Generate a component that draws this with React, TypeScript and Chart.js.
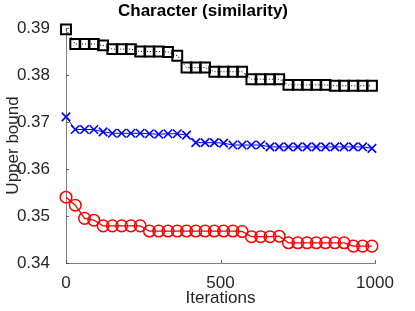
import React, { useEffect, useRef } from "react";
import { Chart, registerables } from "chart.js";

Chart.register(...registerables);

const iterations = [0, 30, 60, 90, 120, 150, 180, 210, 240, 270, 300, 330, 360, 390, 420, 450, 480, 510, 540, 570, 600, 630, 660, 690, 720, 750, 780, 810, 840, 870, 900, 930, 960, 990];

const squareSeries = [0.3897, 0.3866, 0.3866, 0.3866, 0.3863, 0.3855, 0.3855, 0.3855, 0.385, 0.385, 0.385, 0.3849, 0.3841, 0.3816, 0.3816, 0.3816, 0.3807, 0.3807, 0.3807, 0.3807, 0.3791, 0.3791, 0.3791, 0.3791, 0.3779, 0.3779, 0.3779, 0.3779, 0.3779, 0.3777, 0.3777, 0.3777, 0.3777, 0.3777];

const crossSeries = [0.3711, 0.3684, 0.3684, 0.3684, 0.3679, 0.3676, 0.3676, 0.3676, 0.3676, 0.3675, 0.3674, 0.3675, 0.3675, 0.3672, 0.3656, 0.3656, 0.3656, 0.3655, 0.3651, 0.3651, 0.3651, 0.3651, 0.3647, 0.3647, 0.3647, 0.3647, 0.3647, 0.3647, 0.3647, 0.3647, 0.3647, 0.3647, 0.3647, 0.3644];

const circleSeries = [0.354, 0.3523, 0.3495, 0.3491, 0.3479, 0.3479, 0.3479, 0.3479, 0.3479, 0.3468, 0.3468, 0.3468, 0.3468, 0.3468, 0.3468, 0.3468, 0.3468, 0.3468, 0.3468, 0.3467, 0.3456, 0.3456, 0.3456, 0.3457, 0.3443, 0.3443, 0.3443, 0.3443, 0.3443, 0.3443, 0.3443, 0.3436, 0.3436, 0.3436];

const yTicks = [0.34, 0.35, 0.36, 0.37, 0.38, 0.39];
const xTicks = [0, 500, 1000];

const titleText = "Character (similarity)";
const xLabel = "Iterations";
const yLabel = "Upper bound";

const FONT = "'Liberation Sans', Arial, sans-serif";
const TEXT = "#262626";

const decorPlugin = {
  id: "decor",
  afterDraw(chart: any) {
    const ctx = chart.ctx;
    const xs = chart.scales.x;
    const ys = chart.scales.y;
    const area = chart.chartArea;
    ctx.save();
    ctx.strokeStyle = "#404040";
    ctx.lineWidth = 0.8;
    ctx.beginPath();
    for (const t of yTicks) {
      const py = Math.round(ys.getPixelForValue(t)) + 0.5;
      ctx.moveTo(area.left, py);
      ctx.lineTo(area.left + 3, py);
    }
    for (const t of xTicks) {
      const px = Math.round(xs.getPixelForValue(t)) + 0.5;
      ctx.moveTo(px, area.bottom);
      ctx.lineTo(px, area.bottom - 3);
    }
    ctx.stroke();
    ctx.fillStyle = "#000";
    ctx.font = `bold 17px ${FONT}`;
    ctx.textAlign = "center";
    ctx.textBaseline = "middle";
    ctx.fillText(titleText, 203, 11);
    ctx.fillStyle = TEXT;
    ctx.font = `17px ${FONT}`;
    ctx.fillText(xLabel, (area.left + area.right) / 2, 298);
    ctx.translate(13, (area.top + area.bottom) / 2);
    ctx.rotate(-Math.PI / 2);
    ctx.fillText(yLabel, 0, 0);
    ctx.restore();
  },
};

export default function App() {
  const ref = useRef<HTMLCanvasElement>(null);
  useEffect(() => {
    document.body.style.margin = "0";
    const common = { tension: 0, clip: false as any, pointBackgroundColor: "rgba(0,0,0,0)" };
    const chart = new Chart(ref.current!, {
      type: "line",
      data: {
        labels: iterations,
        datasets: [
          {
            ...common,
            data: iterations.map((x, i) => ({ x, y: squareSeries[i] })),
            borderColor: "#000",
            borderWidth: 1,
            borderDash: [1, 2],
            pointStyle: "rect",
            pointRadius: 7,
            pointBorderWidth: 2,
            pointBorderColor: "#000",
          },
          {
            ...common,
            data: iterations.map((x, i) => ({ x, y: crossSeries[i] })),
            borderColor: "#0000ff",
            borderWidth: 1,
            pointStyle: "crossRot",
            pointRadius: 6,
            pointBorderWidth: 1.6,
            pointBorderColor: "#0000ff",
          },
          {
            ...common,
            data: iterations.map((x, i) => ({ x, y: circleSeries[i] })),
            borderColor: "#ff0000",
            borderWidth: 1.3,
            pointStyle: "circle",
            pointRadius: 5.8,
            pointBorderWidth: 1.5,
            pointBorderColor: "#ff0000",
          },
        ],
      },
      options: {
        animation: false,
        responsive: false,
        maintainAspectRatio: false,
        layout: { padding: { top: 28, right: 40, left: 0, bottom: 0 } },
        plugins: { legend: { display: false }, tooltip: { enabled: false }, title: { display: false } },
        scales: {
          x: {
            type: "linear",
            min: 0,
            max: 1000,
            afterFit: (s: any) => { s.height = 48; },
            afterBuildTicks: (s: any) => { s.ticks = xTicks.map((v) => ({ value: v })); },
            grid: { display: false },
            border: { display: true, color: "#808080", width: 1 },
            ticks: { color: TEXT, font: { family: FONT, size: 17 }, padding: 2, maxRotation: 0, callback: (v: any) => String(v) },
          },
          y: {
            type: "linear",
            min: 0.34,
            max: 0.39,
            afterFit: (s: any) => { s.width = 66; },
            afterBuildTicks: (s: any) => { s.ticks = yTicks.map((v) => ({ value: v })); },
            grid: { display: false },
            border: { display: true, color: "#808080", width: 1 },
            ticks: {
              color: TEXT,
              font: { family: FONT, size: 17 },
              padding: 8,
              callback: (v: any) => Number(v).toFixed(2),
            },
          },
        },
      },
      plugins: [decorPlugin],
    });
    return () => chart.destroy();
  }, []);
  return (
    <div style={{ width: 415, height: 311 }}>
      <canvas ref={ref} width={415} height={311} style={{ display: "block" }} />
    </div>
  );
}
